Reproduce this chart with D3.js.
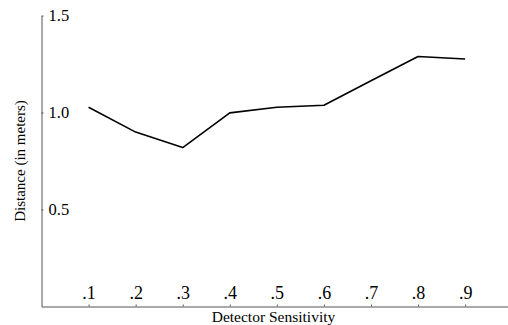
<!DOCTYPE html>
<html>
<head>
<meta charset="utf-8">
<script src="https://cdn.jsdelivr.net/npm/d3@7"></script>
<style>
  html, body { margin: 0; padding: 0; background: #fff; }
  svg { display: block; }
  text { font-family: "Liberation Serif", "Times New Roman", serif; fill: #000; }
</style>
</head>
<body>
<svg id="chart" width="508" height="325"></svg>
<script>
const sensitivity = [0.1, 0.2, 0.3, 0.4, 0.5, 0.6, 0.7, 0.8, 0.9];
const distance = [1.027, 0.899, 0.819, 0.998, 1.027, 1.037, 1.164, 1.289, 1.276];
const xTickValues = [0.1, 0.2, 0.3, 0.4, 0.5, 0.6, 0.7, 0.8, 0.9];
const xTickLabels = [".1", ".2", ".3", ".4", ".5", ".6", ".7", ".8", ".9"];
const yTickValues = [0.5, 1.0, 1.5];
const yTickLabels = ["0.5", "1.0", "1.5"];
const xTitle = "Detector Sensitivity";
const yTitle = "Distance (in meters)";

const svg = d3.select("#chart");
const x = d3.scaleLinear().domain([0, 0.99]).range([41.5, 507.5]);
const y = d3.scaleLinear().domain([0, 1.5]).range([306.5, 15.5]);

const axisColor = "#555";

// Y axis (ticks and labels on the right/inside)
const yAxis = d3.axisRight(y)
  .tickValues(yTickValues)
  .tickFormat((d, i) => yTickLabels[i])
  .tickSizeInner(2).tickSizeOuter(0).tickPadding(5);
const gy = svg.append("g").attr("transform", `translate(${x(0)},0)`).call(yAxis);
gy.select(".domain").attr("stroke", axisColor);
gy.selectAll(".tick line").attr("stroke", axisColor);
gy.selectAll(".tick text").attr("font-size", 16.5).attr("font-family", "Liberation Serif").attr("fill", "#000");

// X axis (ticks and labels above/inside)
const xAxis = d3.axisTop(x)
  .tickValues(xTickValues)
  .tickFormat((d, i) => xTickLabels[i])
  .tickSizeInner(2).tickSizeOuter(0).tickPadding(5.5);
const gx = svg.append("g").attr("transform", `translate(0,${y(0)})`).call(xAxis);
gx.select(".domain").attr("stroke", axisColor);
gx.selectAll(".tick line").attr("stroke", axisColor);
gx.selectAll(".tick text").attr("font-size", 18).attr("font-family", "Liberation Serif").attr("fill", "#000");

// Line
const line = d3.line().x((d, i) => x(sensitivity[i])).y(d => y(d));
svg.append("path")
  .datum(distance)
  .attr("d", line)
  .attr("fill", "none")
  .attr("stroke", "#000")
  .attr("stroke-width", 1.6)
  .attr("stroke-linejoin", "round");

// Titles
svg.append("text")
  .attr("x", (x(0) + x(0.99)) / 2 - 1)
  .attr("y", 322)
  .attr("text-anchor", "middle")
  .attr("font-size", 15.5)
  .text(xTitle);

svg.append("text")
  .attr("transform", `translate(25,${(y(0) + y(1.5)) / 2})`+" rotate(-90)")
  .attr("text-anchor", "middle")
  .attr("font-size", 15)
  .text(yTitle);
</script>
</body>
</html>
